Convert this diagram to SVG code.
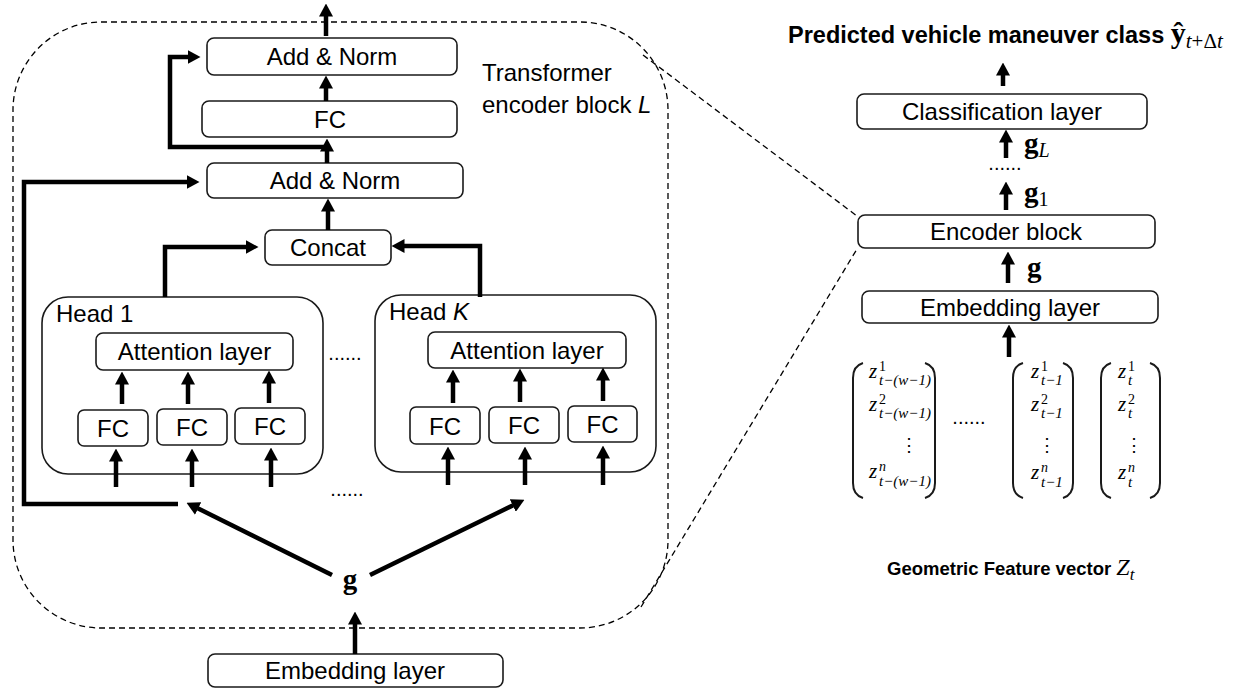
<svg xmlns="http://www.w3.org/2000/svg" width="1241" height="692" viewBox="0 0 1241 692">
  <defs>
    <marker id="ah" viewBox="0 0 13 14" markerWidth="13" markerHeight="14" markerUnits="userSpaceOnUse" refX="0.5" refY="7" orient="auto">
      <path d="M0,0 L13,7 L0,14 z" fill="#000"/>
    </marker>
    <style>
      .box { fill: #fff; stroke: #1a1a1a; stroke-width: 1.6; }
      .head { fill: none; stroke: #1a1a1a; stroke-width: 1.6; }
      .lbl { font-family: "Liberation Sans", Arial, sans-serif; font-size: 24px; fill: #000; text-anchor: middle; }
      .lft { text-anchor: start; }
      .dots { font-family: "Liberation Sans", Arial, sans-serif; font-size: 20px; fill: #000; text-anchor: middle; }
      .arr { fill: none; stroke: #000; stroke-width: 4.5; stroke-linejoin: miter; marker-end: url(#ah); }
      .dash { fill: none; stroke: #000; stroke-width: 1.3; stroke-dasharray: 6 4; }
      .mth { font-family: "Liberation Serif", "Times New Roman", serif; fill: #000; }
      .bg { font-weight: bold; font-size: 29px; }
      .it { font-style: italic; }
      .z { font-family: "Liberation Serif", "Times New Roman", serif; font-style: italic; font-size: 21px; fill: #000; }
      .sup { font-family: "Liberation Serif", "Times New Roman", serif; font-size: 14px; fill: #000; }
      .sub { font-family: "Liberation Serif", "Times New Roman", serif; font-style: italic; font-size: 15px; fill: #000; }
      .par { fill: none; stroke: #1a1a1a; stroke-width: 2; }
    </style>
  </defs>

  <!-- encoder block outline and its zoom lines -->
  <g id="encoder-outline">
    <rect class="dash" x="13" y="22" width="655" height="606" rx="88" ry="88"/>
    <line class="dash" x1="643" y1="55" x2="857" y2="216"/>
    <line class="dash" x1="641" y1="607" x2="857" y2="249"/>
  </g>

  <!-- left: expanded transformer encoder block -->
  <g id="add-norm-top">
    <rect class="box" x="207" y="38" width="250" height="37" rx="7"/>
    <text class="lbl" x="332" y="65">Add &amp; Norm</text>
  </g>
  <g id="fc-top">
    <rect class="box" x="202" y="101" width="255" height="36" rx="7"/>
    <text class="lbl" x="330" y="128">FC</text>
  </g>
  <g id="add-norm-mid">
    <rect class="box" x="207" y="163" width="256" height="35" rx="7"/>
    <text class="lbl" x="335" y="189">Add &amp; Norm</text>
  </g>
  <g id="concat">
    <rect class="box" x="265" y="230" width="126" height="35" rx="7"/>
    <text class="lbl" x="328" y="256">Concat</text>
  </g>
  <g id="block-title">
    <text class="lbl lft" x="482" y="81">Transformer</text>
    <text class="lbl lft" x="482" y="113">encoder block <tspan font-style="italic">L</tspan></text>
  </g>

  <g id="head-1">
    <rect class="head" x="42" y="297" width="281" height="177" rx="26"/>
    <text class="lbl lft" x="56" y="322">Head 1</text>
    <rect class="box" x="96" y="333" width="197" height="37" rx="7"/>
    <text class="lbl" x="194.5" y="360">Attention layer</text>
    <rect class="box" x="78" y="410" width="70" height="36" rx="6"/>
    <text class="lbl" x="113" y="437">FC</text>
    <rect class="box" x="157" y="409" width="70" height="36" rx="6"/>
    <text class="lbl" x="192" y="436">FC</text>
    <rect class="box" x="235" y="408" width="70" height="36" rx="6"/>
    <text class="lbl" x="270" y="435">FC</text>
  </g>

  <g id="head-k">
    <rect class="head" x="375" y="295" width="281" height="177" rx="26"/>
    <text class="lbl lft" x="389" y="320">Head <tspan font-style="italic">K</tspan></text>
    <rect class="box" x="428" y="332" width="198" height="36" rx="7"/>
    <text class="lbl" x="527" y="359">Attention layer</text>
    <rect class="box" x="410" y="407" width="70" height="37" rx="6"/>
    <text class="lbl" x="445" y="435">FC</text>
    <rect class="box" x="489" y="407" width="70" height="36" rx="6"/>
    <text class="lbl" x="524" y="434">FC</text>
    <rect class="box" x="568" y="406" width="69" height="36" rx="6"/>
    <text class="lbl" x="602.5" y="433">FC</text>
  </g>

  <g id="head-gaps">
    <text class="dots" x="345" y="360">......</text>
    <text class="dots" x="347" y="496">......</text>
  </g>

  <g id="g-input">
    <text class="mth bg" x="350" y="589" text-anchor="middle">g</text>
  </g>
  <g id="embedding-left">
    <rect class="box" x="208" y="654" width="295" height="33" rx="7"/>
    <text class="lbl" x="355" y="679">Embedding layer</text>
  </g>

  <!-- right: overall model -->
  <g id="prediction">
    <text x="788" y="43" font-family="'Liberation Sans', Arial, sans-serif" font-weight="bold" font-size="23.5" fill="#000">Predicted vehicle maneuver class <tspan class="mth" font-weight="bold" font-size="30">ŷ</tspan><tspan class="mth it" font-weight="normal" font-size="21" dy="5">t</tspan><tspan class="mth" font-weight="normal" font-size="21">+Δ</tspan><tspan class="mth it" font-weight="normal" font-size="21">t</tspan></text>
  </g>
  <g id="classification">
    <rect class="box" x="857" y="94" width="290" height="35" rx="7"/>
    <text class="lbl" x="1002" y="120">Classification layer</text>
  </g>
  <g id="gL">
    <text class="mth bg" x="1024" y="153">g<tspan class="it" font-weight="normal" font-size="20" dy="4">L</tspan></text>
  </g>
  <g id="stack-gap">
    <text class="dots" x="1005" y="170">......</text>
  </g>
  <g id="g1">
    <text class="mth bg" x="1024" y="202">g<tspan font-weight="normal" font-size="20" dy="4">1</tspan></text>
  </g>
  <g id="encoder-block">
    <rect class="box" x="858" y="215" width="297" height="33" rx="7"/>
    <text class="lbl" x="1006" y="240">Encoder block</text>
  </g>
  <g id="g-right">
    <text class="mth bg" x="1027" y="277">g</text>
  </g>
  <g id="embedding-right">
    <rect class="box" x="862" y="291" width="296" height="32" rx="7"/>
    <text class="lbl" x="1010" y="316">Embedding layer</text>
  </g>

  <!-- feature window: one column vector per time step -->
  <g id="vec-t-w1">
    <path class="par" d="M863,363 Q853,366 853,378 V483 Q853,495 863,498"/>
    <path class="par" d="M925,363 Q935,366 935,378 V483 Q935,495 925,498"/>
    <text class="z" x="869" y="378">z</text><text class="sup" x="879" y="371">1</text><text class="sub" x="879" y="385">t−(w−1)</text>
    <text class="z" x="869" y="411">z</text><text class="sup" x="879" y="404">2</text><text class="sub" x="879" y="418">t−(w−1)</text>
    <text class="mth" x="909" y="451" font-size="18" text-anchor="middle">⋮</text>
    <text class="z" x="869" y="478">z</text><text class="sup it" x="879" y="471" font-style="italic">n</text><text class="sub" x="879" y="486">t−(w−1)</text>
  </g>
  <g id="vec-gap">
    <text class="dots" x="969" y="424">......</text>
  </g>
  <g id="vec-t-1">
    <path class="par" d="M1023,363 Q1013,366 1013,378 V483 Q1013,495 1023,498"/>
    <path class="par" d="M1063,363 Q1073,366 1073,378 V483 Q1073,495 1063,498"/>
    <text class="z" x="1031" y="378">z</text><text class="sup" x="1041" y="371">1</text><text class="sub" x="1041" y="385">t−1</text>
    <text class="z" x="1031" y="411">z</text><text class="sup" x="1041" y="404">2</text><text class="sub" x="1041" y="418">t−1</text>
    <text class="mth" x="1047" y="451" font-size="18" text-anchor="middle">⋮</text>
    <text class="z" x="1031" y="479">z</text><text class="sup" x="1041" y="472" font-style="italic">n</text><text class="sub" x="1041" y="487">t−1</text>
  </g>
  <g id="vec-t">
    <path class="par" d="M1111,363 Q1101,366 1101,378 V483 Q1101,495 1111,498"/>
    <path class="par" d="M1150,363 Q1160,366 1160,378 V483 Q1160,495 1150,498"/>
    <text class="z" x="1118" y="378">z</text><text class="sup" x="1128" y="371">1</text><text class="sub" x="1128" y="385">t</text>
    <text class="z" x="1118" y="411">z</text><text class="sup" x="1128" y="404">2</text><text class="sub" x="1128" y="418">t</text>
    <text class="mth" x="1134" y="451" font-size="18" text-anchor="middle">⋮</text>
    <text class="z" x="1118" y="479">z</text><text class="sup" x="1128" y="472" font-style="italic">n</text><text class="sub" x="1128" y="487">t</text>
  </g>
  <g id="feature-caption">
    <text x="887" y="575" font-family="'Liberation Sans', Arial, sans-serif" font-weight="bold" font-size="18.5" fill="#000">Geometric Feature vector <tspan class="mth it" font-weight="normal" font-size="24">Z</tspan><tspan class="mth it" font-weight="normal" font-size="17" dy="5">t</tspan></text>
  </g>

  <!-- connectors -->
  <g id="connectors">
    <path class="arr" d="M326,36 V16"/>
    <path class="arr" d="M326,101 V88"/>
    <path class="arr" d="M327,163 V151"/>
    <path class="arr" d="M327,147 H170 V57 H188"/>
    <path class="arr" d="M328,230 V211"/>
    <path class="arr" d="M178,504 H24 V182 H187"/>
    <path class="arr" d="M165,297 V247 H246"/>
    <path class="arr" d="M480,297 V246 H404"/>
    <path class="arr" d="M122,404 V384"/>
    <path class="arr" d="M188,404 V384"/>
    <path class="arr" d="M269,403 V383"/>
    <path class="arr" d="M453,403 V382"/>
    <path class="arr" d="M520,402 V381"/>
    <path class="arr" d="M603,401 V380"/>
    <path class="arr" d="M116,487 V461"/>
    <path class="arr" d="M192,487 V461"/>
    <path class="arr" d="M271,487 V460"/>
    <path class="arr" d="M448,485 V459"/>
    <path class="arr" d="M525,485 V459"/>
    <path class="arr" d="M603,485 V458"/>
    <path class="arr" d="M332,575 L197.7,508.3"/>
    <path class="arr" d="M370,575 L513.2,505.3"/>
    <path class="arr" d="M355,654 V624"/>
    <path class="arr" d="M1003,86 V75"/>
    <path class="arr" d="M1006,158 V142"/>
    <path class="arr" d="M1006,210 V194"/>
    <path class="arr" d="M1008,283 V264"/>
    <path class="arr" d="M1009,357 V337"/>
  </g>
</svg>
